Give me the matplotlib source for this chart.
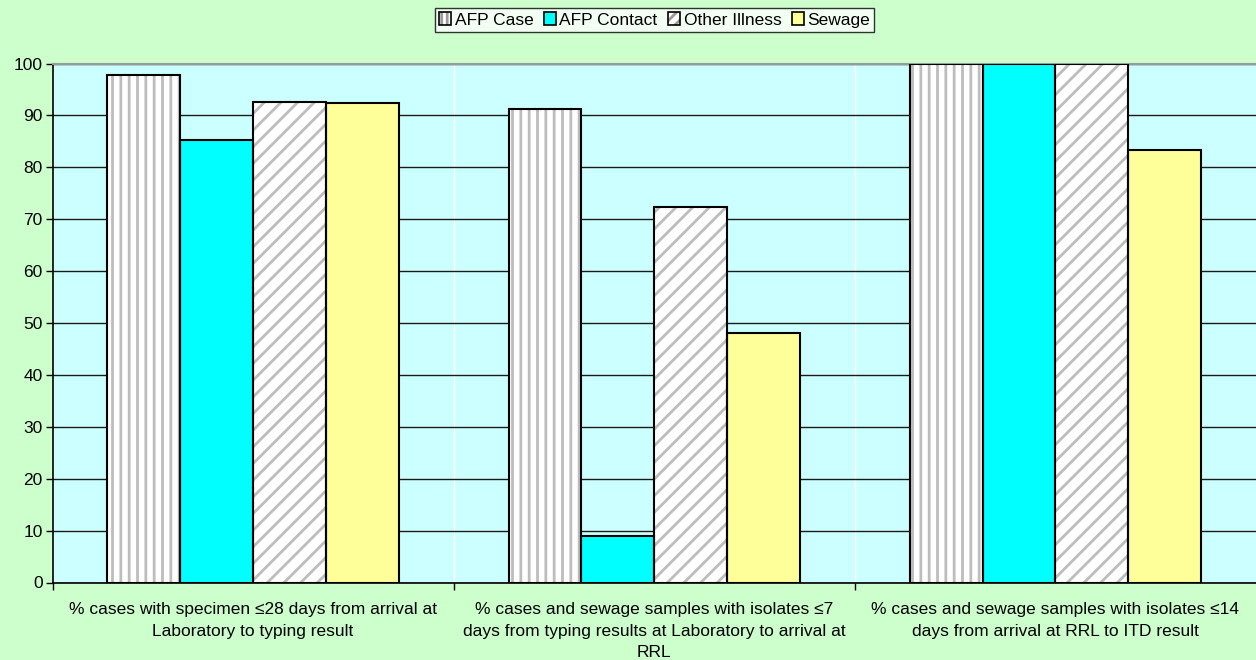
import matplotlib
matplotlib.use("Agg")
import matplotlib.pyplot as plt
import numpy as np
from matplotlib.patches import Patch

categories = [
    "% cases with specimen \u226428 days from arrival at\nLaboratory to typing result",
    "% cases and sewage samples with isolates \u22647\ndays from typing results at Laboratory to arrival at\nRRL",
    "% cases and sewage samples with isolates \u226414\ndays from arrival at RRL to ITD result",
]
series_names = ["AFP Case", "AFP Contact", "Other Illness", "Sewage"]
afp_case = [97.7, 91.3, 100.0]
afp_contact = [85.2, 9.0, 100.0]
other_illness = [92.6, 72.4, 100.0]
sewage = [92.3, 48.0, 83.3]
y_ticks = [0, 10, 20, 30, 40, 50, 60, 70, 80, 90, 100]

plt.rcParams['font.family'] = ['Liberation Sans', 'DejaVu Sans']
plt.rcParams['hatch.linewidth'] = 2.0

FS = 12.5
fig = plt.figure(figsize=(12.56, 6.60), dpi=100, facecolor='#CCFFCC')
ax = fig.add_axes([52.5/1256, 1-582.5/660, 1-52.5/1256, (582.5-63.5)/660])
ax.set_facecolor('#CCFFFF')

styles = [
    dict(facecolor='white', hatch='||'),
    dict(facecolor='#00FFFF', hatch=None),
    dict(facecolor='white', hatch='//'),
    dict(facecolor='#FFFF99', hatch=None),
]
data = [afp_case, afp_contact, other_illness, sewage]
x = np.arange(len(categories))
w = 73/402
for i, (vals, st) in enumerate(zip(data, styles)):
    pos = x + (i-1.5)*w
    ax.bar(pos, vals, width=w, facecolor=st['facecolor'], hatch=st['hatch'],
           edgecolor='#BDBDBD', linewidth=0, zorder=3)
    ax.bar(pos, vals, width=w, facecolor='none', edgecolor='black', linewidth=1.5, zorder=4)

ax.set_xlim(-0.5, 2.5)
ax.set_ylim(0, 100)
ax.set_yticks(y_ticks)
ax.set_yticklabels([str(t) for t in y_ticks])
ax.set_xticks(x)
ax.set_xticklabels(categories, fontsize=FS, linespacing=1.55)
ax.set_xticks([-0.5, 0.5, 1.5], minor=True)
ax.tick_params(axis='x', which='major', length=0, pad=14)
ax.tick_params(axis='x', which='minor', length=5, direction='out', color='black', width=1)
ax.tick_params(axis='y', which='major', length=5, direction='out', labelsize=FS, width=1, pad=2)
ax.yaxis.grid(True, color='#1a1a1a', linewidth=1.0, zorder=0)
ax.xaxis.grid(True, which='minor', color='white', linewidth=1.0, zorder=0)
ax.set_axisbelow(True)

ax.spines['right'].set_visible(False)
ax.spines['top'].set_color('#999999')
ax.spines['top'].set_linewidth(1.5)
ax.spines['left'].set_color('black')
ax.spines['bottom'].set_color('black')
ax.spines['left'].set_linewidth(1.2)
ax.spines['bottom'].set_linewidth(1.2)

handles = [Patch(facecolor=st['facecolor'], hatch=st['hatch'], edgecolor='black',
                 linewidth=1.2, label=name) for st, name in zip(styles, series_names)]

leg = fig.legend(handles=handles, loc='center', bbox_to_anchor=(654.5/1256, 1-20/660), ncol=4,
                 fontsize=FS, frameon=True, fancybox=False, shadow=False,
                 handlelength=0.7, handleheight=0.7, handletextpad=0.2, columnspacing=0.6,
                 borderpad=0.25, borderaxespad=0)
leg.get_frame().set_edgecolor('black')
leg.get_frame().set_linewidth(1.0)
leg.get_frame().set_facecolor('white')
for p in leg.get_patches():
    p.set_linewidth(1.2)
    if p.get_hatch():
        p.set_hatch(p.get_hatch()[0] * 3)
        p._hatch_color = matplotlib.colors.to_rgba('#9a9a9a')

fig.savefig('out.png', dpi=100, facecolor=fig.get_facecolor())
